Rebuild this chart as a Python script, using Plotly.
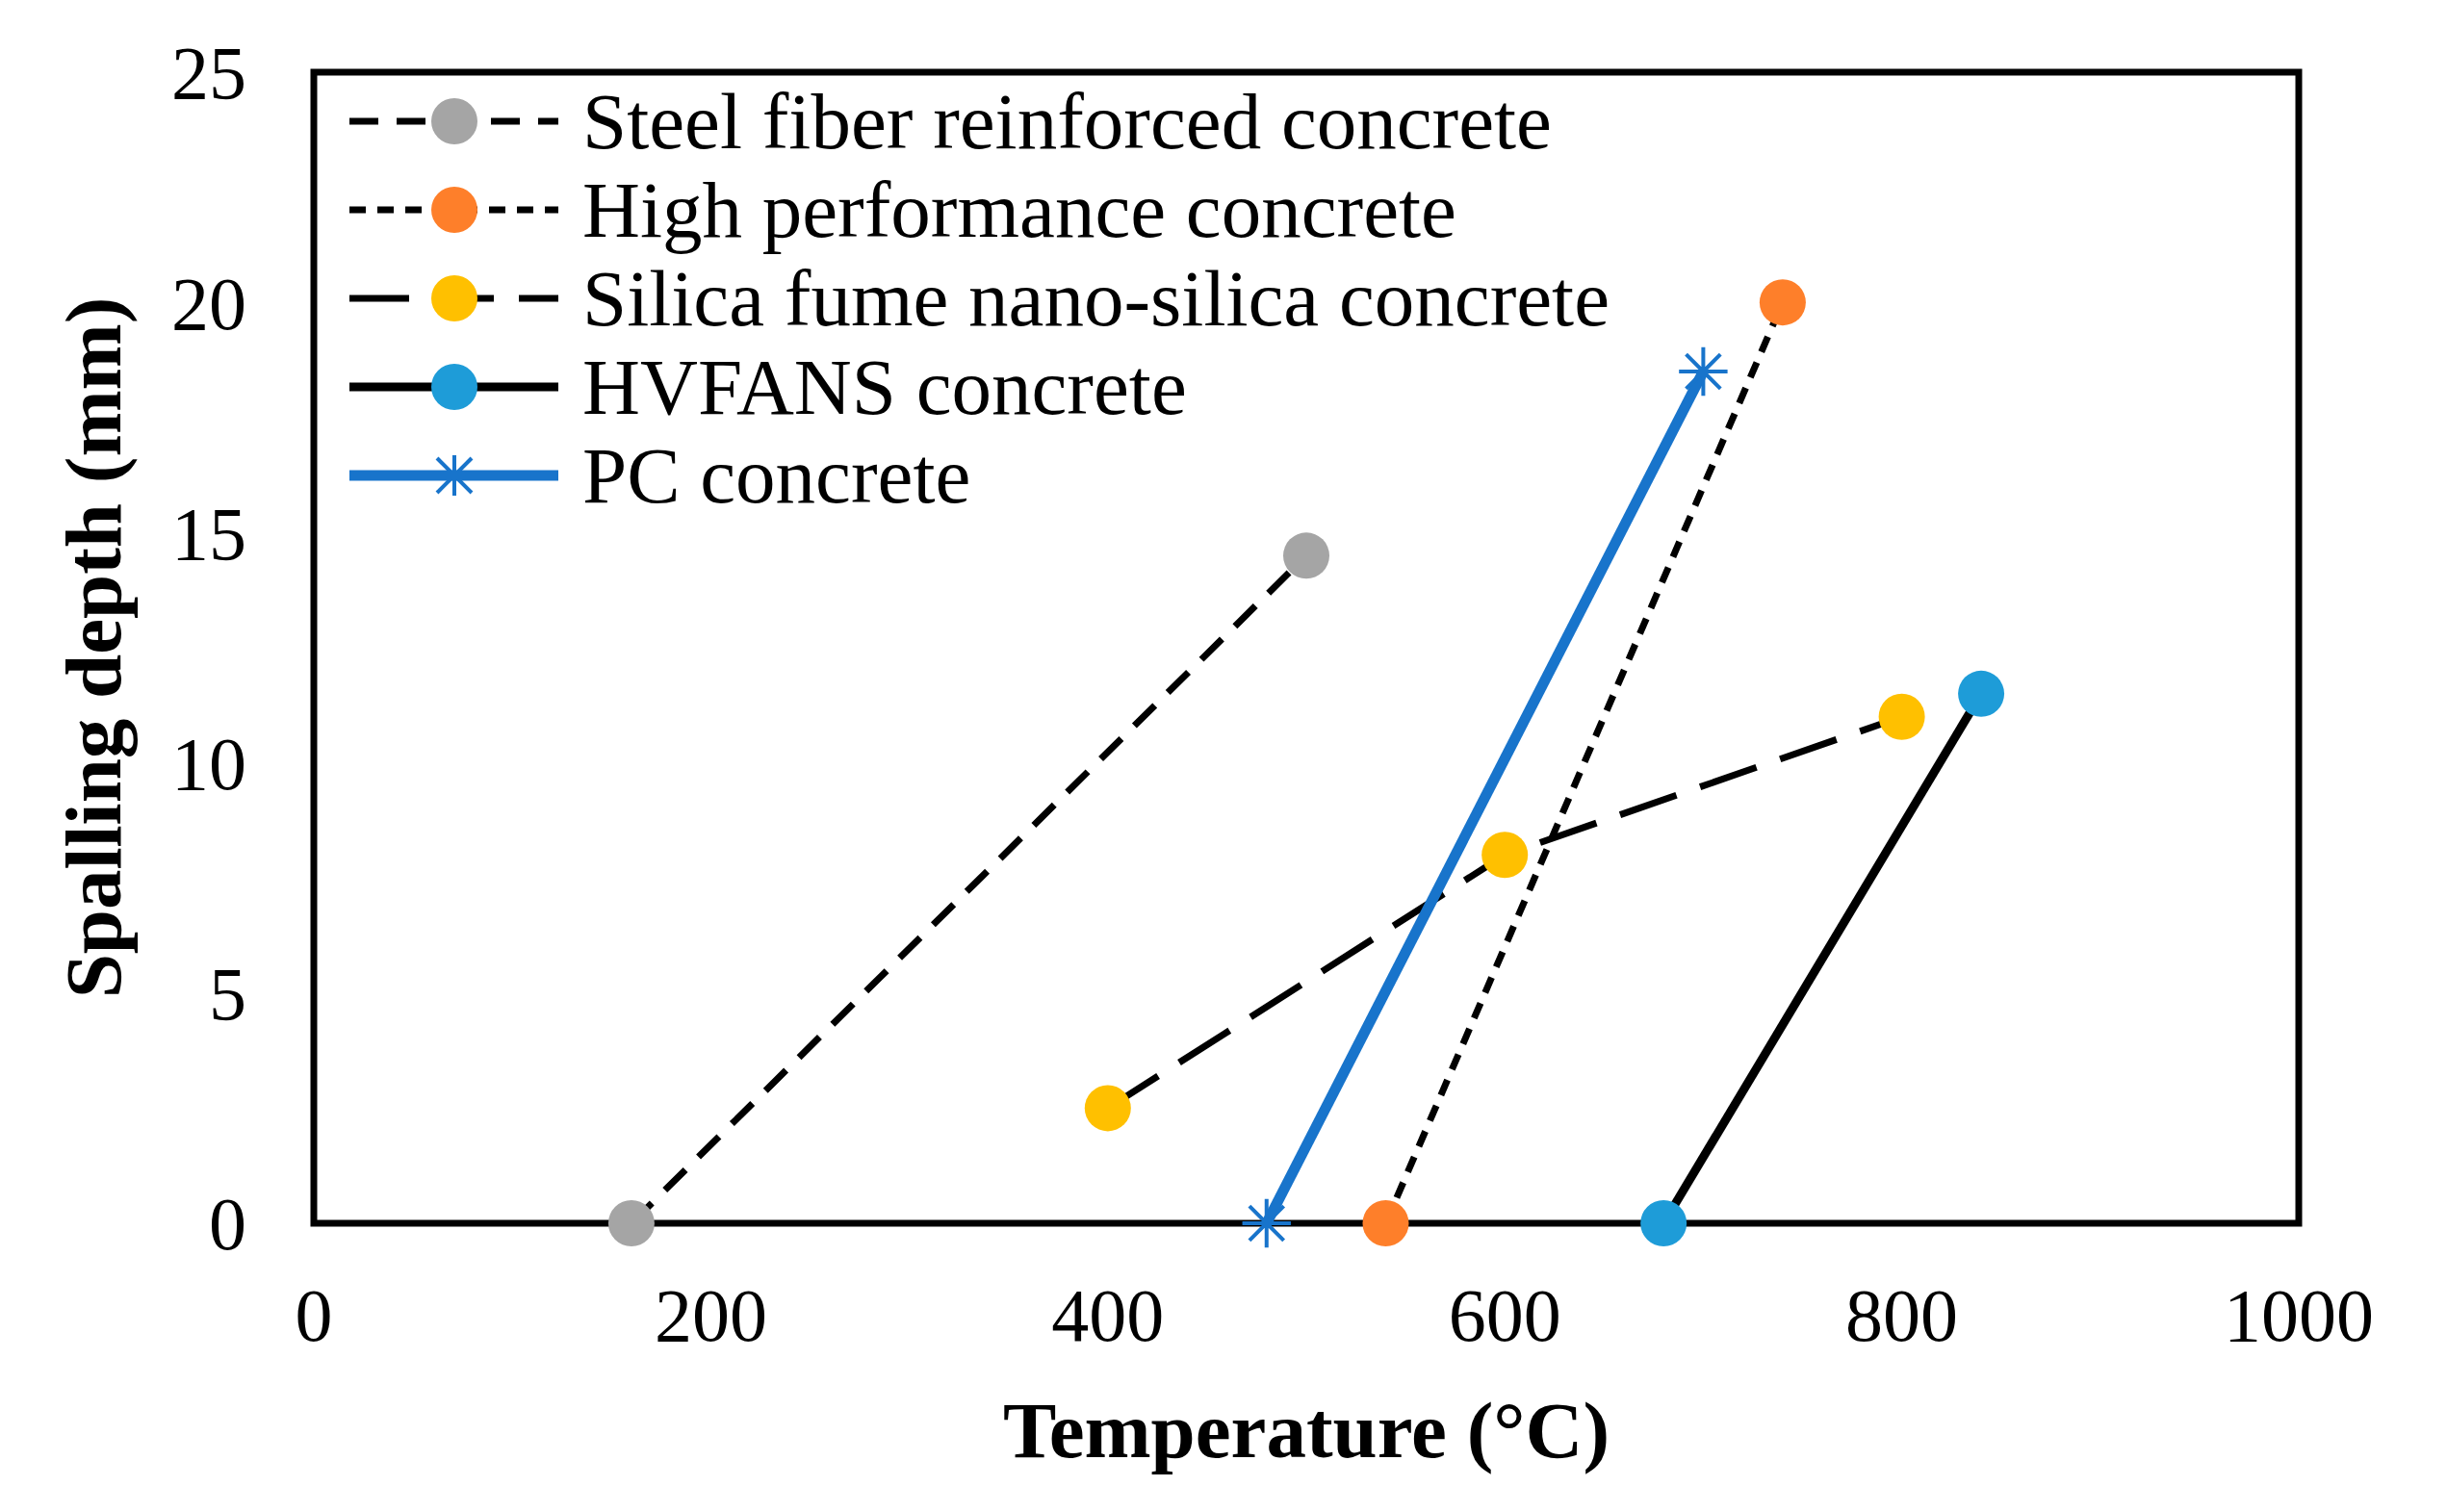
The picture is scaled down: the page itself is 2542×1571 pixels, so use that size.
import plotly.graph_objects as go

# ---------------- data ----------------
series_names = [
    "Steel fiber reinforced concrete",
    "High performance concrete",
    "Silica fume nano-silica concrete",
    "HVFANS concrete",
    "PC concrete",
]
steel_x = [160, 500]
steel_y = [0, 14.5]
hpc_x = [540, 740]
hpc_y = [0, 20]
silica_x = [400, 600, 800]
silica_y = [2.5, 8, 11]
hvfans_x = [680, 840]
hvfans_y = [0, 11.5]
pc_x = [480, 700]
pc_y = [0, 18.5]

x_ticks = [0, 200, 400, 600, 800, 1000]
y_ticks = [0, 5, 10, 15, 20, 25]

# ---------------- styles ----------------
FONT = "Liberation Serif, Times New Roman, serif"
W, H = 2542, 1571
L, R, T, B = 326, 154, 75, 300

styles = [
    dict(line=dict(color="black", width=7, dash="30px,19px"),
         marker=dict(symbol="circle", size=48, color="#A5A5A5")),
    dict(line=dict(color="black", width=7, dash="17px,12px"),
         marker=dict(symbol="circle", size=48, color="#FE7F2A")),
    dict(line=dict(color="black", width=7, dash="62px,26px"),
         marker=dict(symbol="circle", size=48, color="#FFC000")),
    dict(line=dict(color="black", width=9),
         marker=dict(symbol="circle", size=48, color="#1E9CD8")),
    dict(line=dict(color="#1874CB", width=11),
         marker=dict(symbol="asterisk-open", size=42,
                     line=dict(color="#1874CB", width=4), color="#1874CB")),
]

xs = [steel_x, hpc_x, silica_x, hvfans_x, pc_x]
ys = [steel_y, hpc_y, silica_y, hvfans_y, pc_y]

fig = go.Figure()
for name, x, y, st in zip(series_names, xs, ys, styles):
    fig.add_trace(go.Scatter(x=x, y=y, name=name, mode="lines+markers",
                             line=st["line"], marker=st["marker"],
                             cliponaxis=False, showlegend=False))

# ---------------- custom legend (paper coordinates) ----------------
pw = W - L - R
ph = H - T - B


def px_x(p):
    return (p - L) / pw


def px_y(p):
    return (H - B - p) / ph


line_x0, line_x1, mark_x, text_x = 363, 580, 472, 603
row0, row_step = 126, 92

# plot frame centred on the plot-area edges
shapes = [dict(type="rect", xref="paper", yref="paper", x0=0, x1=1, y0=0, y1=1,
               line=dict(color="black", width=7), layer="below")]
annotations = []
for i, (name, st) in enumerate(zip(series_names, styles)):
    yy = px_y(row0 + i * row_step)
    shapes.append(dict(type="line", xref="paper", yref="paper",
                       x0=px_x(line_x0), x1=px_x(line_x1), y0=yy, y1=yy,
                       line=dict(color=st["line"]["color"], width=st["line"]["width"],
                                 dash=st["line"].get("dash", "solid")),
                       layer="above"))
    mx = px_x(mark_x)
    if st["marker"]["symbol"] == "circle":
        shapes.append(dict(type="circle", xref="paper", yref="paper",
                           xsizemode="pixel", ysizemode="pixel",
                           xanchor=mx, yanchor=yy, x0=-24, x1=24, y0=-24, y1=24,
                           fillcolor=st["marker"]["color"], line=dict(width=0),
                           layer="above"))
    else:
        for dx0, dy0, dx1, dy1 in [(0, -21, 0, 21), (-18, -18, 18, 18), (-18, 18, 18, -18)]:
            shapes.append(dict(type="line", xref="paper", yref="paper",
                               xsizemode="pixel", ysizemode="pixel",
                               xanchor=mx, yanchor=yy, x0=dx0, x1=dx1, y0=dy0, y1=dy1,
                               line=dict(color=st["marker"]["line"]["color"], width=4),
                               layer="above"))
    annotations.append(dict(text=name, xref="paper", yref="paper",
                            x=px_x(text_x), y=yy, xanchor="left", yanchor="middle",
                            showarrow=False, font=dict(family=FONT, size=83, color="black")))

fig.update_layout(
    width=W, height=H,
    margin=dict(l=L, r=R, t=T, b=B, pad=0),
    paper_bgcolor="white", plot_bgcolor="white",
    font=dict(family=FONT, color="black"),
    shapes=shapes, annotations=annotations,
    showlegend=False,
)
fig.update_xaxes(
    range=[0, 1000], tickvals=x_ticks, ticktext=[str(v) for v in x_ticks],
    showgrid=False, zeroline=False, ticks="", showline=False,
    tickfont=dict(family=FONT, size=78, color="black"),
    ticklabelstandoff=43,
    title=dict(text="<b>Temperature (°C)</b>", standoff=46,
               font=dict(family=FONT, size=83, color="black")),
)
fig.update_yaxes(
    range=[0, 25], tickvals=y_ticks, ticktext=[str(v) for v in y_ticks],
    showgrid=False, zeroline=False, ticks="", showline=False,
    tickfont=dict(family=FONT, size=78, color="black"),
    ticklabelstandoff=69,
    title=dict(text="<b>Spalling depth (mm)</b>", standoff=24,
               font=dict(family=FONT, size=83, color="black")),
)

fig.write_html("out.html", config={"displayModeBar": False},
               post_script="document.body.style.margin='0';")
